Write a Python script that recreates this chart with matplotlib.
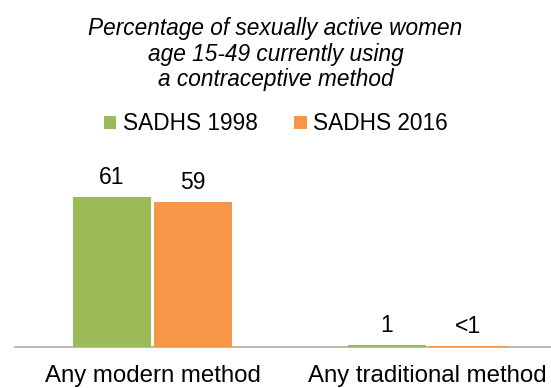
import matplotlib.pyplot as plt
import numpy as np

plt.rcParams['font.family'] = ['Liberation Sans', 'DejaVu Sans']

categories = ["Any modern method", "Any traditional method"]
series = ["SADHS 1998", "SADHS 2016"]
values_1998 = [61, 1]
values_2016 = [59, 0.5]
labels_1998 = ["61", "1"]
labels_2016 = ["59", "<1"]
colors = ["#9BBB59", "#F79646"]

W, H = 551, 388
fig = plt.figure(figsize=(W / 100, H / 100), dpi=100)

# axes spans past the right edge, like the original
ax_left, ax_right = 15, 565
ax_bottom, ax_top = 347, 175
ax = fig.add_axes([ax_left / W, 1 - ax_bottom / H,
                   (ax_right - ax_left) / W, (ax_bottom - ax_top) / H])

x = np.arange(len(categories))
bw = 0.284
off = 0.1475
for vals, labs, col, sgn, name in [(values_1998, labels_1998, colors[0], -1, series[0]),
                                   (values_2016, labels_2016, colors[1], 1, series[1])]:
    bars = ax.bar(x + sgn * off, vals, bw, color=col, linewidth=0, label=name)
    for b, lab in zip(bars, labs):
        ax.annotate(lab, (b.get_x() + b.get_width() / 2, b.get_height()),
                    xytext=(0, 5.5), textcoords="offset points",
                    ha="center", va="bottom", fontsize=16.5, color="#000000")

ax.set_xlim(-0.5, 1.5)
ax.set_ylim(0, (ax_bottom - ax_top) / 2.459)
for s in ["top", "right", "left"]:
    ax.spines[s].set_visible(False)
ax.spines["bottom"].set_color("#ABABAB")
ax.spines["bottom"].set_linewidth(1.2)
ax.spines["bottom"].set_zorder(0.5)
ax.set_yticks([])
ax.set_xticks(x)
ax.set_xticklabels(categories, fontsize=17.3)
ax.tick_params(axis="x", length=0, pad=13)

fig.text(0.5, 1 - 54 / H,
         "Percentage of sexually active women\nage 15-49 currently using\na contraceptive method",
         ha="center", va="center", fontsize=16.3, style="italic", linespacing=1.13)

fig.legend(loc="center", bbox_to_anchor=(276 / W, 1 - 124 / H), ncol=2,
           frameon=False, fontsize=16.3, handlelength=0.55, handleheight=0.55,
           handletextpad=0.3, columnspacing=1.6)

fig.savefig("out.png", dpi=100)
